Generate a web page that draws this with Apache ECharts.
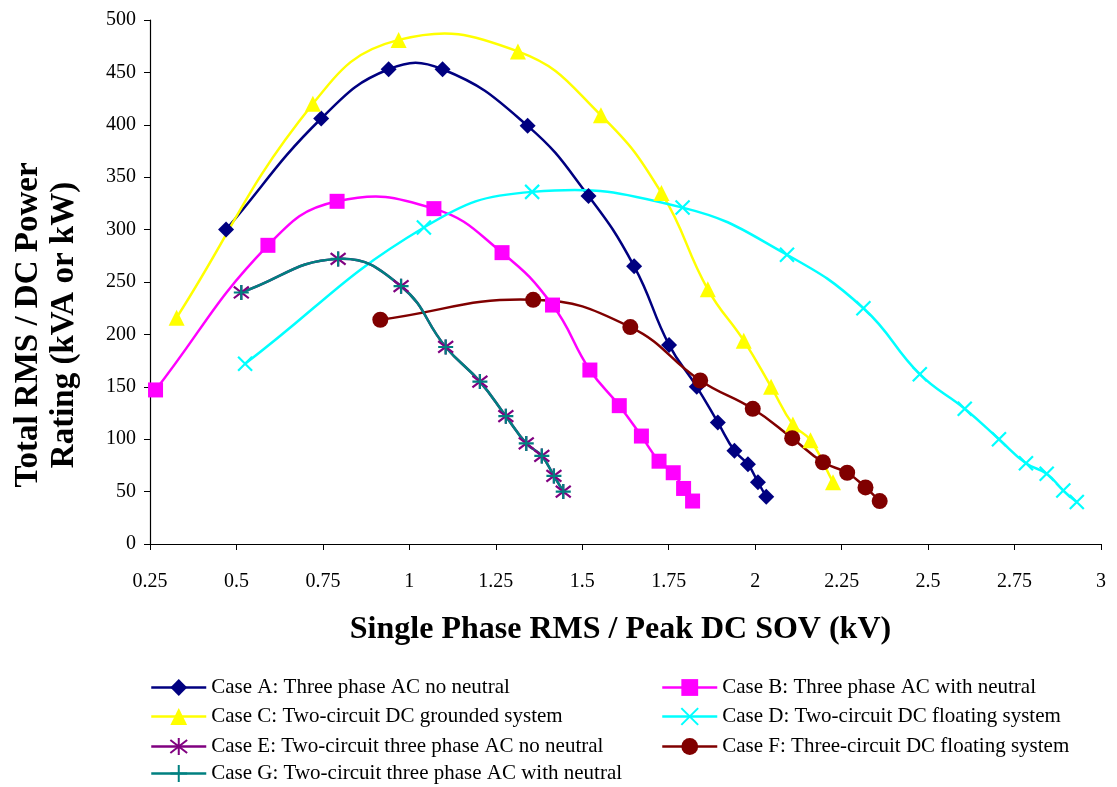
<!DOCTYPE html>
<html>
<head>
<meta charset="utf-8">
<script src="https://cdn.jsdelivr.net/npm/echarts@6/dist/echarts.min.js"></script>
<style>
  html, body { margin: 0; padding: 0; background: #fff; }
  #chart { width: 1117px; height: 787px; }
</style>
</head>
<body>
<div id="chart"></div>
<script>
// Power rating vs. SOV for each system configuration: [SOV (kV), rating (kVA or kW)]
const caseA = [[0.47,300],[0.745,406],[0.94,453],[1.096,453],[1.342,399],[1.518,332],[1.65,265],[1.751,190],[1.831,150],[1.892,116],[1.94,89],[1.979,76],[2.008,59],[2.032,45]];
const caseB = [[0.266,147],[0.591,285],[0.791,327],[1.071,320],[1.268,278],[1.414,228],[1.522,166],[1.607,132],[1.671,103],[1.722,79],[1.763,68],[1.793,53],[1.819,41]];
const caseC = [[0.327,216],[0.721,420],[0.969,481],[1.314,470],[1.554,409],[1.729,335],[1.863,243],[1.967,194],[2.046,150],[2.109,114],[2.16,99],[2.225,59]];
const caseD = [[0.525,172],[1.042,302],[1.355,336],[1.79,321],[2.092,276],[2.313,225],[2.476,162],[2.606,129],[2.705,100],[2.783,77],[2.843,67],[2.891,51],[2.93,40]];
const caseE = [[0.514,240],[0.794,272],[0.976,246],[1.105,188],[1.204,155],[1.279,122],[1.338,96],[1.383,84],[1.418,65],[1.445,50]];
const caseF = [[0.916,214],[1.358,233],[1.639,207],[1.841,156],[1.993,129],[2.107,101],[2.196,78],[2.266,68],[2.319,54],[2.36,41]];
const caseG = [[0.514,240],[0.794,272],[0.976,246],[1.105,188],[1.204,155],[1.279,122],[1.338,96],[1.383,84],[1.418,65],[1.445,50]];

const names = [
  'Case A: Three phase AC no neutral',
  'Case B: Three phase AC with neutral',
  'Case C: Two-circuit DC grounded system',
  'Case D: Two-circuit DC floating system',
  'Case E: Two-circuit three phase AC no neutral',
  'Case F: Three-circuit DC floating system',
  'Case G: Two-circuit three phase AC with neutral'
];

const xTitle = 'Single Phase RMS / Peak DC SOV (kV)';
const yTitle = 'Total RMS / DC Power\nRating (kVA or kW)';

// stroke-only marker shapes
const crossPath = 'path://M0,0L10,10M10,0L0,10';
const starPath = 'path://M0,0L10,10M10,0L0,10M5,-1.5L5,11.5';
const plusPath = 'path://M5,0L5,10M0,5L10,5';

const LINE_W = 2.5;
const TENSION = 0.45;

// Smooth curve through the points: one cubic segment per pair of points,
// tangents taken from the neighbouring points in pixel space.
function curveSeries(data, color) {
  return {
    type: 'custom',
    data: data,
    encode: { x: 0, y: 1 },
    silent: true,
    z: 2,
    renderItem: function (params, api) {
      const i = params.dataIndex;
      const n = data.length;
      if (i >= n - 1) return null;
      const P = k => api.coord(data[Math.max(0, Math.min(n - 1, k))]);
      const p0 = P(i - 1), p1 = P(i), p2 = P(i + 1), p3 = P(i + 2);
      const dist = (a, b) => Math.hypot(b[0] - a[0], b[1] - a[1]);
      const d01 = dist(p0, p1), d12 = dist(p1, p2), d23 = dist(p2, p3);
      const f1 = TENSION * d12 / (d01 + d12);
      const f2 = TENSION * d12 / (d12 + d23);
      return {
        type: 'bezierCurve',
        shape: {
          x1: p1[0], y1: p1[1],
          cpx1: p1[0] + (p2[0] - p0[0]) * f1,
          cpy1: p1[1] + (p2[1] - p0[1]) * f1,
          cpx2: p2[0] - (p3[0] - p1[0]) * f2,
          cpy2: p2[1] - (p3[1] - p1[1]) * f2,
          x2: p2[0], y2: p2[1]
        },
        style: { stroke: color, lineWidth: LINE_W, fill: null }
      };
    }
  };
}

// Markers (and legend entry) for one case
function markerSeries(name, data, color, symbol, size, strokeOnly) {
  return {
    name: name,
    type: 'line',
    data: data,
    symbol: symbol,
    symbolSize: size,
    showAllSymbol: true,
    lineStyle: { color: color, width: LINE_W, opacity: 0 },
    itemStyle: strokeOnly
      ? { color: color, borderColor: color, borderWidth: 2.2 }
      : { color: color, borderWidth: 0 },
    emphasis: { disabled: true },
    z: 3
  };
}

const legendText = { fontFamily: 'Liberation Serif', fontSize: 21, color: '#000' };
const rowTop = [677, 706, 736, 763];
const colLeft = [150, 661];
function legendItem(name, col, row) {
  return {
    left: colLeft[col], top: rowTop[row], padding: 0,
    itemWidth: 55, itemHeight: 21, itemGap: 0,
    data: [name],
    textStyle: legendText,
    lineStyle: { opacity: 1, width: LINE_W },
    selectedMode: false
  };
}

const chart = echarts.init(document.getElementById('chart'), null, { renderer: 'canvas' });
chart.setOption({
  animation: false,
  backgroundColor: '#fff',
  grid: { left: 150, right: 16, top: 20, bottom: 243, containLabel: false },
  xAxis: {
    type: 'value',
    min: 0.25, max: 3, interval: 0.25,
    name: xTitle,
    nameLocation: 'middle',
    nameGap: 70,
    nameTextStyle: { fontFamily: 'Liberation Serif', fontWeight: 'bold', fontSize: 32, color: '#000', padding: [0, 10, 0, 0] },
    axisLine: { onZero: false, lineStyle: { color: '#000', width: 1.2 } },
    axisTick: { show: true, length: 6, inside: false, lineStyle: { color: '#000' } },
    axisLabel: { fontFamily: 'Liberation Serif', fontSize: 20, color: '#000', margin: 28 },
    splitLine: { show: false }
  },
  yAxis: {
    type: 'value',
    min: 0, max: 500, interval: 50,
    name: yTitle,
    nameLocation: 'middle',
    nameGap: 68,
    nameRotate: 90,
    nameTextStyle: { fontFamily: 'Liberation Serif', fontWeight: 'bold', fontSize: 33, color: '#000', lineHeight: 36, padding: [0, 86, 0, 0] },
    axisLine: { show: true, lineStyle: { color: '#000', width: 1.2 } },
    axisTick: { show: true, length: 6, lineStyle: { color: '#000' } },
    axisLabel: { fontFamily: 'Liberation Serif', fontSize: 20, color: '#000', margin: 14 },
    splitLine: { show: false }
  },
  legend: [
    legendItem(names[0], 0, 0),
    legendItem(names[2], 0, 1),
    legendItem(names[4], 0, 2),
    legendItem(names[6], 0, 3),
    legendItem(names[1], 1, 0),
    legendItem(names[3], 1, 1),
    legendItem(names[5], 1, 2)
  ],
  series: [
    curveSeries(caseA, '#000080'),
    curveSeries(caseB, '#FF00FF'),
    curveSeries(caseC, '#FFFF00'),
    curveSeries(caseD, '#00FFFF'),
    curveSeries(caseE, '#800080'),
    curveSeries(caseF, '#800000'),
    curveSeries(caseG, '#008080'),
    markerSeries(names[0], caseA, '#000080', 'diamond', 16, false),
    markerSeries(names[1], caseB, '#FF00FF', 'rect', 15, false),
    markerSeries(names[2], caseC, '#FFFF00', 'triangle', 16, false),
    markerSeries(names[3], caseD, '#00FFFF', crossPath, 14, true),
    markerSeries(names[4], caseE, '#800080', starPath, 15, true),
    markerSeries(names[5], caseF, '#800000', 'circle', 16, false),
    markerSeries(names[6], caseG, '#008080', plusPath, 15, true)
  ]
});
</script>
</body>
</html>
